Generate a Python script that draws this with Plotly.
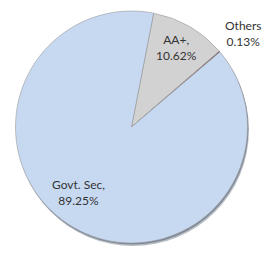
import plotly.graph_objects as go

labels = ["AA+", "Others", "Govt. Sec"]
values = [10.62, 0.13, 89.25]
colors = ["#D2D2D2", "#7A3A3A", "#C6D9F1"]
label_pos = {"AA+": (176, 47), "Others": (243, 34), "Govt. Sec": (78, 192)}

W, H = 262, 254
L, R, T, B = 15, 248, 11, 243

def dom(dx=0, dy=0):
    return dict(x=[(L + dx) / W, (R + dx) / W], y=[1 - (B + dy) / H, 1 - (T + dy) / H])

fig = go.Figure()
# soft shadow
fig.add_trace(go.Pie(values=[1], labels=["shadow"], sort=False,
                     marker=dict(colors=["#B8BEC6"], line=dict(width=0)),
                     textinfo="none", hoverinfo="skip", domain=dom(1.5, 3), showlegend=False))
fig.add_trace(go.Pie(values=[1], labels=["shadow2"], sort=False,
                     marker=dict(colors=["#7E8794"], line=dict(width=0)),
                     textinfo="none", hoverinfo="skip", domain=dom(0.8, 1.5), showlegend=False))
fig.add_trace(go.Pie(
    labels=labels, values=values, sort=False, direction="clockwise", rotation=11,
    marker=dict(colors=colors, line=dict(color="#9A9A9A", width=0.6)),
    textinfo="none", hoverinfo="label+percent",
    domain=dom(), showlegend=False,
))
for lab, val in zip(labels, values):
    px, py = label_pos[lab]
    text = f"{lab},<br>{val:.2f}%" if lab != "Others" else f"{lab}<br>{val:.2f}%"
    fig.add_annotation(x=px / W, y=1 - py / H, xref="paper", yref="paper",
                       xanchor="center", yanchor="middle",
                       text=text, showarrow=False, align="center",
                       font=dict(family="Lato, Liberation Sans, sans-serif", size=12, color="#333333"))
fig.update_layout(width=W, height=H, margin=dict(l=0, r=0, t=0, b=0),
                  paper_bgcolor="white", plot_bgcolor="white")
fig.write_html("out.html", config={"displayModeBar": False},
               post_script="document.body.style.margin='0';")
